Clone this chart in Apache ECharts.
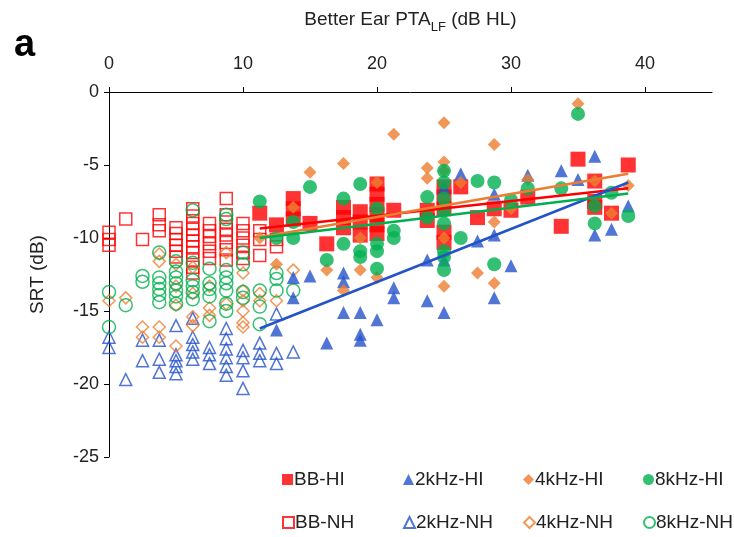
<!DOCTYPE html>
<html><head><meta charset="utf-8">
<script src="https://cdn.jsdelivr.net/npm/echarts@6/dist/echarts.min.js"></script>
<style>html,body{margin:0;padding:0;background:#fff}#c{width:734px;height:537px}</style>
</head><body><div id="c"></div>
<script>
// ---------- data ----------
const xTicks = [0, 10, 20, 30, 40];
const yTicks = [0, -5, -10, -15, -20, -25];

const bbNH = [[0,-9.6],[0,-10.1],[0,-10.5],[1.25,-8.7],[2.5,-10.1],[3.75,-8.4],[3.75,-9.1],[3.75,-9.5],
  [5,-9.3],[5,-9.7],[5,-10.1],[5,-10.5],[5,-10.9],[5,-11.3],
  [6.25,-8.0],[6.25,-8.5],[6.25,-9.0],[6.25,-9.4],[6.25,-9.8],[6.25,-10.2],[6.25,-10.6],[6.25,-11.0],[6.25,-11.5],[6.25,-12.0],[6.25,-12.4],
  [7.5,-9.0],[7.5,-9.5],[7.5,-9.9],[7.5,-10.4],[7.5,-10.9],[7.5,-11.4],
  [8.75,-7.3],[8.75,-8.4],[8.75,-8.9],[8.75,-9.4],[8.75,-9.8],[8.75,-10.3],[8.75,-10.8],[8.75,-11.5],
  [10,-9.0],[10,-9.5],[10,-10.0],[10,-10.5],[10,-11.0],[10,-11.4],
  [11.25,-9.5],[11.25,-10.1],[11.25,-11.2],[12.5,-10.1],[12.5,-10.6]];

const k2NH = [[0,-16.8],[0,-17.5],[1.25,-19.7],[2.5,-17.0],[2.5,-18.4],[3.75,-17.0],[3.75,-18.3],[3.75,-19.2],
  [5,-16.0],[5,-18.0],[5,-18.4],[5,-18.8],[5,-19.3],
  [6.25,-15.5],[6.25,-16.8],[6.25,-17.3],[6.25,-17.8],[6.25,-18.3],
  [7.5,-17.5],[7.5,-18.0],[7.5,-18.6],
  [8.75,-16.2],[8.75,-16.9],[8.75,-17.6],[8.75,-18.2],[8.75,-18.8],[8.75,-19.4],
  [10,-17.7],[10,-18.2],[10,-19.1],[10,-20.3],
  [11.25,-17.2],[11.25,-17.9],[11.25,-18.4],[12.5,-15.2],[12.5,-17.9],[12.5,-18.6],[13.75,-17.8]];

const k4NH = [[0,-14.3],[1.25,-14.1],[2.5,-16.1],[2.5,-16.8],[3.75,-11.1],[3.75,-11.6],[3.75,-16.1],[3.75,-16.8],
  [5,-11.8],[5,-13.3],[5,-14.6],[5,-17.4],
  [6.25,-12.0],[6.25,-13.8],[6.25,-15.4],[6.25,-16.0],
  [7.5,-13.3],[7.5,-14.8],[7.5,-15.3],
  [8.75,-11.0],[8.75,-14.5],
  [10,-12.4],[10,-13.6],[10,-14.3],[10,-15.0],[10,-15.8],[10,-16.1],
  [11.25,-13.8],[11.25,-14.3],[12.5,-14.3],[13.75,-12.2]];

const k8NH = [[0,-13.7],[0,-16.1],[1.25,-14.6],[2.5,-12.6],[2.5,-13.0],
  [3.75,-11.0],[3.75,-12.7],[3.75,-13.1],[3.75,-13.5],[3.75,-13.9],[3.75,-14.4],
  [5,-11.6],[5,-12.3],[5,-12.7],[5,-13.1],[5,-13.6],[5,-14.0],[5,-14.5],
  [6.25,-8.1],[6.25,-11.7],[6.25,-12.9],[6.25,-13.3],[6.25,-13.7],[6.25,-14.2],
  [7.5,-12.1],[7.5,-13.1],[7.5,-13.5],[7.5,-14.0],[7.5,-15.7],
  [8.75,-8.4],[8.75,-8.7],[8.75,-12.2],[8.75,-12.7],[8.75,-13.1],[8.75,-13.6],[8.75,-14.5],[8.75,-15.0],
  [10,-11.0],[10,-11.8],[10,-13.7],[10,-14.1],
  [11.25,-13.6],[11.25,-14.7],[11.25,-15.9],
  [12.5,-12.4],[12.5,-12.8],[12.5,-13.6],[13.75,-13.6]];

const bbHI = [[11.25,-8.3],[12.5,-9.1],[13.75,-7.3],[13.75,-8.0],[13.75,-8.7],[15,-9.0],[16.25,-10.4],
  [17.5,-7.9],[17.5,-8.6],[17.5,-9.3],[18.75,-8.2],[18.75,-8.9],[18.75,-9.8],
  [20,-6.3],[20,-7.0],[20,-7.7],[20,-8.4],[20,-9.1],[20,-9.7],[21.25,-8.1],
  [23.75,-8.1],[23.75,-8.8],[25,-6.5],[25,-7.2],[25,-8.0],[25,-9.6],[25,-10.3],
  [26.25,-6.5],[27.5,-8.6],[28.75,-8.0],[30,-8.1],[31.25,-7.2],[33.75,-9.2],[35,-4.6],
  [36.25,-6.1],[36.25,-7.5],[36.25,-7.9],[37.5,-8.3],[38.75,-5.0]];

const k2HI = [[12.5,-16.3],[13.75,-12.7],[13.75,-14.1],[15,-12.6],[16.25,-17.2],
  [17.5,-12.4],[17.5,-13.0],[17.5,-15.1],[18.75,-15.1],[18.75,-16.6],[18.75,-17.0],
  [20,-15.6],[21.25,-13.4],[21.25,-14.1],[23.75,-11.5],[23.75,-14.3],
  [25,-6.5],[25,-11.5],[25,-15.1],[26.25,-5.6],[27.5,-10.2],[28.75,-7.0],[28.75,-9.8],[28.75,-14.1],
  [30,-11.9],[31.25,-5.7],[33.75,-5.4],[35,-6.0],[36.25,-4.4],[36.25,-9.8],[37.5,-9.4],[38.75,-7.8]];

const k4HI = [[11.25,-10.0],[12.5,-11.8],[13.75,-7.9],[15,-5.5],[16.25,-12.2],[17.5,-4.9],[17.5,-13.6],
  [18.75,-10.0],[18.75,-12.2],[20,-6.2],[20,-12.7],[21.25,-2.9],
  [23.75,-5.2],[23.75,-5.9],[25,-2.1],[25,-4.8],[25,-5.4],[25,-10.0],[25,-13.3],[26.25,-6.2],
  [27.5,-12.4],[28.75,-3.6],[28.75,-8.9],[28.75,-13.1],[30,-8.0],[31.25,-6.0],[35,-0.8],
  [36.25,-6.1],[37.5,-8.3],[38.75,-6.4]];

const k8HI = [[11.25,-7.5],[12.5,-10.0],[13.75,-8.9],[13.75,-10.0],[15,-6.5],[16.25,-11.5],
  [17.5,-7.3],[17.5,-10.4],[18.75,-6.3],[18.75,-10.9],[18.75,-11.3],
  [20,-8.0],[20,-10.4],[20,-10.9],[20,-12.1],[21.25,-9.5],[21.25,-10.0],
  [23.75,-7.2],[23.75,-8.6],[25,-5.4],[25,-6.2],[25,-7.3],[25,-8.1],[25,-9.0],[25,-10.9],[25,-11.3],[25,-12.2],
  [26.25,-10.0],[27.5,-6.1],[28.75,-6.2],[28.75,-11.8],[30,-7.4],[31.25,-6.6],[33.75,-6.6],[35,-1.5],
  [36.25,-7.8],[36.25,-9.0],[37.5,-6.9],[38.75,-8.5]];

// linear trend lines (end points)
const trendBB = [[11.25,-9.35],[38.75,-6.6]];
const trend2k = [[11.25,-16.2],[38.75,-6.2]];
const trend4k = [[11.25,-9.95],[38.75,-5.6]];
const trend8k = [[11.25,-10.0],[38.75,-6.95]];

const names = ['BB-HI','2kHz-HI','4kHz-HI','8kHz-HI','BB-NH','2kHz-NH','4kHz-NH','8kHz-NH'];

// ---------- styling ----------
const RED = '#FF0000', BLUE = '#2453C9', ORANGE = '#ED7D31', GREEN = '#00B050';
const FONT = '"Liberation Sans", Arial, sans-serif';

function scat(name, data, symbol, size, color, open) {
  return {
    name, type: 'scatter', data, symbol, symbolSize: size,
    itemStyle: open ? {color: 'rgba(255,255,255,0)', borderColor: color, borderWidth: 1.5}
                    : {color: color, borderWidth: 0},
    emphasis: {disabled: true}, animation: false
  };
}
function trend(data, color) {
  return {type: 'line', data, symbol: 'none', lineStyle: {color, width: 2.5},
    emphasis: {disabled: true}, animation: false, silent: true, z: 5};
}

const series = [
  scat('BB-NH', bbNH, 'rect', 12, RED, true),
  scat('2kHz-NH', k2NH, 'triangle', 12, BLUE, true),
  scat('4kHz-NH', k4NH, 'diamond', 12, ORANGE, true),
  scat('8kHz-NH', k8NH, 'circle', 13, GREEN, true),
  scat('BB-HI', bbHI, 'rect', 15, RED, false),
  scat('2kHz-HI', k2HI, 'triangle', 13, BLUE, false),
  scat('4kHz-HI', k4HI, 'diamond', 13, ORANGE, false),
  scat('8kHz-HI', k8HI, 'circle', 14, GREEN, false),
  trend(trendBB, RED), trend(trend2k, BLUE), trend(trend4k, ORANGE), trend(trend8k, GREEN)
];

const colLeft = [277, 398, 518, 638], rowTop = [465, 508];
const legends = names.map((n, i) => ({
  data: [n], left: colLeft[i % 4], top: rowTop[Math.floor(i / 4)],
  itemWidth: 11, itemHeight: 11, itemGap: 0, selectedMode: false,
  textStyle: {fontSize: 19, color: '#222', fontFamily: FONT, padding: [0, 0, 0, -4]}
}));

const option = {
  backgroundColor: '#fff',
  textStyle: {fontFamily: FONT},
  title: {text: 'a', left: 9, top: 22, textStyle: {fontSize: 38, fontWeight: 'bold', color: '#000', fontFamily: FONT}},
  legend: legends,
  grid: {left: 109, top: 92, width: 603, height: 365, containLabel: false},
  xAxis: {
    type: 'value', position: 'top', min: 0, max: 45, interval: 10,
    axisLine: {show: true, onZero: false, lineStyle: {color: '#000', width: 1}},
    axisTick: {show: true, length: 5, customValues: xTicks, lineStyle: {color: '#000'}},
    axisLabel: {fontSize: 18, color: '#222', margin: 19, customValues: xTicks, fontFamily: FONT},
    splitLine: {show: false},
    name: '{a|Better Ear PTA}{s|LF}{a| (dB HL)}', nameLocation: 'middle', nameGap: 58,
    nameTextStyle: {rich: {
      a: {fontSize: 19, lineHeight: 28, color: '#222', fontFamily: FONT},
      s: {fontSize: 13, lineHeight: 14, verticalAlign: 'bottom', color: '#222', fontFamily: FONT}
    }}
  },
  yAxis: {
    type: 'value', min: -25, max: 0, interval: 5,
    axisLine: {show: true, onZero: false, lineStyle: {color: '#000', width: 1}},
    axisTick: {show: true, length: 5, customValues: yTicks, lineStyle: {color: '#000'}},
    axisLabel: {fontSize: 18, color: '#222', margin: 10, customValues: yTicks, fontFamily: FONT},
    splitLine: {show: false},
    name: 'SRT (dB)', nameLocation: 'middle', nameGap: 62, nameRotate: 90,
    nameTextStyle: {fontSize: 19, color: '#222', fontFamily: FONT}
  },
  series
};

const chart = echarts.init(document.getElementById('c'), null, {renderer: 'canvas'});
chart.setOption(option);
</script>
</body></html>
